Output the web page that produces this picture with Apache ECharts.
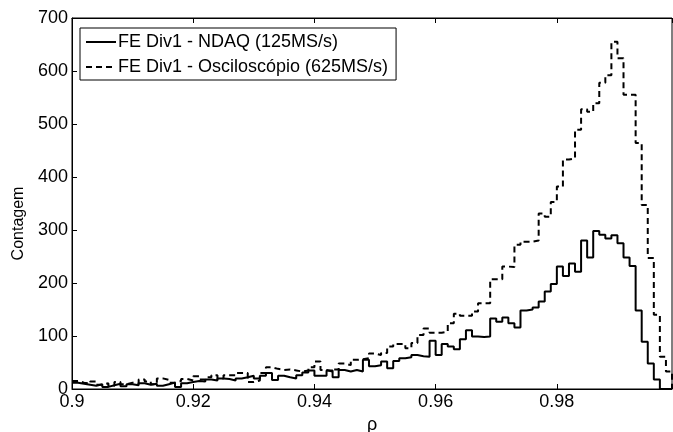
<!DOCTYPE html>
<html>
<head>
<meta charset="utf-8">
<script src="https://cdn.jsdelivr.net/npm/echarts@6/dist/echarts.min.js"></script>
<style>
  html, body { margin: 0; padding: 0; background: #fff; }
  #chart { width: 673px; height: 432px; }
</style>
</head>
<body>
<div id="chart"></div>
<script>
// histogram bins: 0.900 .. 0.998, width 0.001
const binStart = 0.9;
const binWidth = 0.001;
const xTicks = [0.9, 0.92, 0.94, 0.96, 0.98];
const yTicks = [0, 100, 200, 300, 400, 500, 600, 700];

const seriesNames = ['FE Div1 - NDAQ (125MS/s)', 'FE Div1 - Osciloscópio (625MS/s)'];

// contagem por bin (NDAQ)
const countsNdaq = [
  12, 10, 8, 6, 9, 4, 7, 10, 5, 9,
  7, 11, 8, 10, 6, 9, 12, 4, 11, 13,
  15, 14, 18, 16, 20, 19, 16, 20, 22, 25,
  20, 25, 30, 17, 25, 22, 20, 26, 31, 35,
  25, 25, 35, 22, 36, 33, 36, 33, 55, 43,
  45, 52, 39, 53, 58, 60, 64, 62, 61, 91,
  64, 85, 80, 75, 94, 111, 99, 98, 99, 133,
  127, 135, 124, 116, 148, 150, 154, 165, 184, 198,
  231, 213, 237, 221, 280, 248, 298, 291, 284, 290,
  275, 248, 232, 148, 89, 48, 18, 0, 0
];

// contagem por bin (osciloscopio)
const countsOsc = [
  15, 12, 10, 14, 8, 11, 6, 13, 9, 12,
  10, 18, 14, 9, 20, 17, 12, 15, 19, 16,
  24, 18, 22, 26, 20, 26, 26, 30, 30, 13,
  16, 30, 41, 38, 36, 37, 35, 33, 35, 41,
  52, 36, 33, 37, 48, 45, 55, 56, 58, 67,
  64, 68, 80, 85, 85, 77, 87, 102, 114, 106,
  106, 108, 124, 142, 138, 138, 146, 162, 162, 207,
  207, 231, 230, 272, 278, 278, 280, 331, 325, 353,
  382, 433, 435, 489, 528, 523, 539, 578, 592, 655,
  624, 555, 555, 464, 347, 247, 140, 61, 33
];

// points at left edge of each bin, plus closing edge
function stairs(counts) {
  const pts = counts.map((c, i) => [binStart + i * binWidth, c]);
  const end = binStart + counts.length * binWidth;
  pts.push([end, counts[counts.length - 1]]);
  pts.push([end, 0]);
  return pts;
}

const font = 'Liberation Sans, Arial, Helvetica, sans-serif';
const fs = 18;
const chart = echarts.init(document.getElementById('chart'));

chart.setOption({
  animation: false,
  backgroundColor: '#fff',
  textStyle: { fontFamily: font },
  grid: {
    left: 72, right: 1, top: 18, bottom: 43,
    outerBoundsMode: 'none',
    show: true, borderColor: '#000', borderWidth: 1
  },
  legend: {
    orient: 'vertical',
    left: 80, top: 28,
    data: seriesNames,
    itemWidth: 30, itemHeight: 14, itemGap: 7,
    padding: [5, 8, 4, 5],
    borderColor: '#000', borderWidth: 1,
    backgroundColor: '#fff',
    itemStyle: { opacity: 0 },
    textStyle: { fontSize: fs, color: '#000', fontFamily: font, padding: [0, 0, 0, -3] }
  },
  xAxis: [{
    type: 'value',
    min: 0.9, max: 0.999, interval: 0.02,
    name: 'ρ', nameLocation: 'middle', nameGap: 26,
    nameTextStyle: { fontSize: fs, color: '#000' },
    axisLine: { show: true, lineStyle: { color: '#000', width: 1 } },
    axisTick: { inside: true, length: 5, lineStyle: { color: '#000' } },
    axisLabel: {
      fontSize: fs, color: '#000', margin: 4, showMaxLabel: false,
      formatter: v => xTicks.indexOf(+v.toFixed(2)) >= 0 ? String(+v.toFixed(2)) : ''
    },
    splitLine: { show: false }
  }, {
    type: 'value', position: 'top',
    min: 0.9, max: 0.999, interval: 0.02,
    axisLine: { show: true, lineStyle: { color: '#000' } },
    axisTick: { inside: true, length: 5, lineStyle: { color: '#000' } },
    axisLabel: { show: false },
    splitLine: { show: false }
  }],
  yAxis: [{
    type: 'value',
    min: yTicks[0], max: yTicks[yTicks.length - 1], interval: 100,
    name: 'Contagem', nameLocation: 'middle', nameGap: 38,
    nameTextStyle: { fontSize: 16, color: '#000', padding: [0, 40, 0, 0] },
    axisLine: { show: true, lineStyle: { color: '#000', width: 1 } },
    axisTick: { inside: true, length: 5, lineStyle: { color: '#000' } },
    axisLabel: { fontSize: fs, color: '#000', margin: 4 },
    splitLine: { show: false }
  }],
  series: [{
    name: seriesNames[0],
    type: 'line',
    step: 'end',
    symbol: 'none',
    data: stairs(countsNdaq),
    lineStyle: { color: '#000', width: 2 },
    itemStyle: { color: '#000' },
    z: 3
  }, {
    name: seriesNames[1],
    type: 'line',
    step: 'end',
    symbol: 'none',
    data: stairs(countsOsc),
    lineStyle: { color: '#000', width: 2, type: [6, 4] },
    itemStyle: { color: '#000' },
    z: 2
  }]
});
</script>
</body>
</html>
